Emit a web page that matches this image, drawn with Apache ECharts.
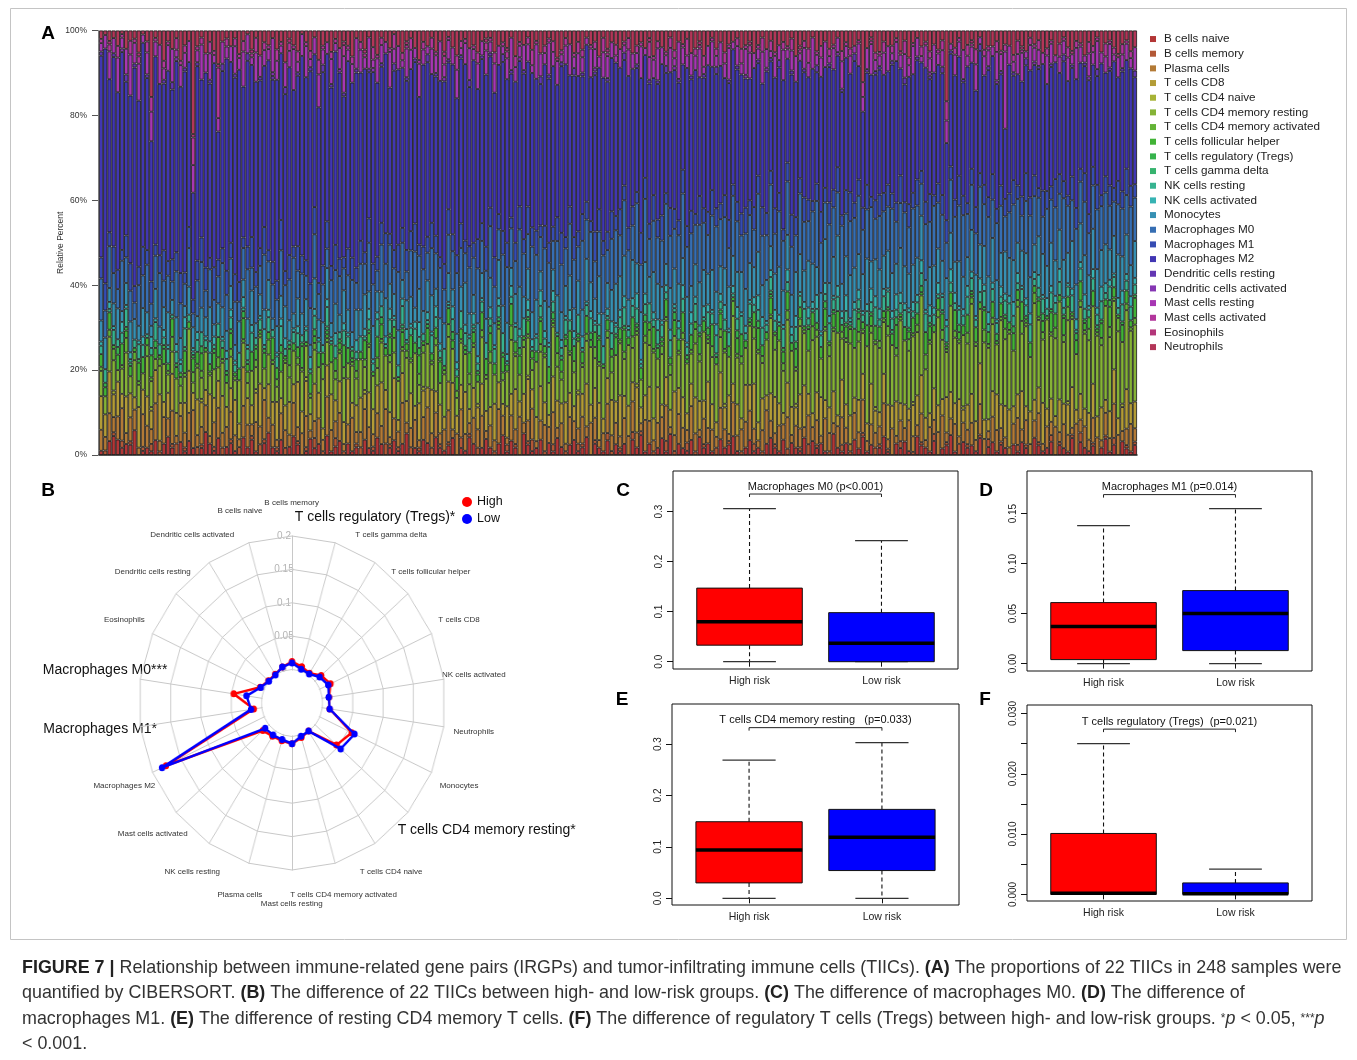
<!DOCTYPE html>
<html><head><meta charset="utf-8">
<script src="https://cdn.jsdelivr.net/npm/echarts@6/dist/echarts.min.js"></script>
<style>html,body{margin:0;padding:0;background:#fff}body{position:relative;width:1357px;height:1060px;overflow:hidden}#c{position:absolute;left:0;top:0;width:1357px;height:1060px}#r{position:absolute;left:91.7px;top:503px;width:400px;height:400px;transform:scaleX(0.918);transform-origin:200px 200px}</style>
</head><body><div id="c"></div><div id="r"></div>
<script>
// ---------------- Panel A data (per-sample CIBERSORT fractions, %, estimated) ----------------
const sampleCount = 248;
const cellTypes = ['B cells naive','B cells memory','Plasma cells','T cells CD8','T cells CD4 naive','T cells CD4 memory resting','T cells CD4 memory activated','T cells follicular helper','T cells regulatory (Tregs)','T cells gamma delta','NK cells resting','NK cells activated','Monocytes','Macrophages M0','Macrophages M1','Macrophages M2','Dendritic cells resting','Dendritic cells activated','Mast cells resting','Mast cells activated','Eosinophils','Neutrophils'];
const percentTicks = ['0%','20%','40%','60%','80%','100%'];

const bNaive = [1,0,4,5,4,2,3,3,6,0,1,2,1,4,0,3,5,2,0,3,1,4,2,0,2,6,3,1,5,0,2,
3,1,0,5,2,4,1,0,3,6,2,1,4,0,2,5,3,0,1,4,2,3,0,5,1,2,4,0,3,1,2,
0,4,2,1,5,3,0,2,4,1,3,6,0,2,1,4,3,0,5,2,1,3,4,0,2,1,5,3,0,2,4,
2,0,3,5,1,4,2,0,6,3,1,2,4,0,3,1,5,2,0,3,4,1,2,5,0,3,2,1,4,0,3,
1,3,0,4,2,5,1,3,0,2,4,1,6,0,3,2,1,4,0,5,2,3,1,0,4,2,3,5,1,0,2,
4,1,2,0,3,5,2,1,4,0,3,2,1,5,0,4,2,3,1,0,6,2,1,3,0,4,2,5,1,3,0,
2,5,1,0,3,2,4,1,0,5,3,2,1,4,0,2,3,6,1,0,4,2,3,1,5,0,2,4,1,3,2,
0,3,1,4,2,0,5,3,1,2,4,0,3,2,1,5,0,4,2,1,3,0,2,5,1,3,0,4,2,1,3];
const bMem = [0,1,0,1,0,2,0,1,0,0,1,0,2,0,1,0,0,1,3,0,1,0,0,2,1,0,0,1,0,2,0,
1,0,2,0,0,1,0,3,1,0,0,1,0,2,0,0,1,0,1,0,3,0,1,0,0,2,0,1,0,0,1,
2,0,0,1,0,0,3,1,0,1,0,0,2,0,1,0,0,2,0,1,0,1,0,0,3,0,1,0,2,0,0,
0,1,0,0,2,0,1,0,0,1,3,0,0,1,0,2,0,0,1,0,0,2,1,0,0,1,0,0,2,1,0,
1,0,0,2,0,1,0,0,1,0,0,3,0,1,0,0,2,0,1,0,1,0,0,2,0,0,1,0,0,1,0,
0,2,0,1,0,0,1,0,0,2,0,0,1,0,3,0,1,0,0,1,0,0,2,0,1,0,0,1,0,0,2,
1,0,1,0,0,2,0,0,1,0,1,0,0,2,0,0,1,0,0,3,0,1,0,0,1,0,2,0,0,1,0,
0,0,2,0,1,0,0,1,0,0,2,0,1,0,0,1,0,3,0,0,1,0,0,1,0,2,0,0,1,0,1];
const plasma = [5,3,8,4,6,9,3,7,5,2,8,6,4,10,3,7,5,9,2,6,4,8,11,3,5,7,2,6,9,4,5,
7,4,2,9,6,3,8,5,10,4,6,2,7,5,3,9,4,6,8,2,5,7,3,10,6,4,8,2,5,9,3,
4,8,6,3,7,5,9,2,6,4,11,3,5,8,2,6,9,4,7,3,5,10,2,6,8,4,3,7,5,9,2,
6,3,9,5,2,7,4,10,3,6,8,2,5,7,4,9,3,6,2,8,5,4,7,3,9,6,2,5,8,4,6,
3,7,5,8,4,2,9,6,3,7,5,10,2,4,8,6,3,9,5,2,7,4,6,3,8,5,2,9,4,6,7,
8,4,2,6,9,5,3,7,4,10,2,6,5,3,8,4,7,2,9,5,3,6,8,4,2,7,5,9,3,6,4,
5,9,3,7,2,6,4,8,5,3,9,2,7,4,6,10,3,5,8,2,6,4,7,3,9,5,2,8,6,4,3,
2,6,8,4,7,3,5,9,2,6,4,8,3,7,5,2,9,4,6,3,8,5,2,7,4,10,6,3,5,8,4];
const cd8 = [8,5,12,6,9,4,10,7,3,11,6,8,5,9,13,4,7,10,6,3,8,12,5,9,7,4,11,6,8,10,5,
6,9,4,11,7,5,8,12,3,9,6,10,4,7,8,5,13,6,9,4,11,7,3,8,10,5,9,6,12,4,7,
9,4,10,6,8,12,5,7,11,3,8,6,9,4,10,7,5,12,6,8,3,9,11,5,7,10,4,8,6,9,5,
5,10,7,3,9,6,11,4,8,12,5,7,9,6,3,10,8,5,11,7,4,9,6,12,5,8,10,4,7,9,6,
11,6,8,5,12,4,7,9,6,10,3,8,5,11,7,9,4,6,10,8,5,12,7,4,9,6,11,5,8,3,10,
7,12,5,9,4,8,10,6,3,11,7,5,9,12,6,4,8,10,5,7,9,3,11,6,8,4,10,7,5,12,6,
4,8,11,6,9,5,7,3,10,8,12,6,4,9,7,5,11,8,6,10,4,7,9,5,12,6,3,8,10,7,9,
10,5,7,12,4,9,6,8,11,5,7,3,10,6,9,12,4,8,5,7,11,6,9,4,8,10,5,7,12,6,8];
const cd4Naive = [0,0,0,1,0,0,0,0,0,0,0,0,1,0,0,0,0,0,0,0,0,0,0,0,1,0,0,0,0,0,0,
0,0,0,0,0,0,1,0,0,0,0,0,0,0,0,0,0,0,1,0,0,0,0,0,0,0,0,0,0,0,0,
0,1,0,0,0,0,0,0,0,0,0,0,0,0,0,1,0,0,0,0,0,0,0,0,0,0,0,0,1,0,0,
0,0,0,0,0,0,0,0,0,1,0,0,0,0,0,0,0,0,0,0,0,1,0,0,0,0,0,0,0,0,0,
0,0,0,0,1,0,0,0,0,0,0,0,0,0,0,0,0,0,0,0,0,0,0,0,0,1,0,0,0,0,0,
0,0,0,0,0,0,0,0,0,0,0,1,0,0,0,0,0,0,0,0,0,0,0,0,0,0,0,0,0,0,1,
0,0,0,0,0,0,0,0,1,0,0,0,0,0,0,0,0,0,0,0,1,0,0,0,0,0,0,0,0,0,0,
0,0,0,0,0,0,0,0,0,0,0,0,0,0,1,0,0,0,0,0,0,0,0,0,0,0,0,1,0,0,0];
const cd4MemRest = [6,4,10,8,3,7,12,5,9,6,4,11,7,3,8,10,5,6,9,4,7,12,3,8,6,10,5,7,4,9,6,
8,5,11,7,4,9,6,13,5,8,10,4,7,12,6,9,5,11,8,4,10,7,13,6,9,5,8,12,4,10,7,
10,6,13,8,5,11,9,14,7,10,6,12,8,15,5,9,11,7,13,6,10,14,8,5,12,9,7,11,6,13,8,
12,8,14,6,10,15,9,7,13,11,5,16,9,12,8,14,10,6,15,11,9,13,7,12,16,8,10,14,11,7,13,
14,10,16,9,13,7,15,11,18,8,12,16,10,14,9,17,12,8,15,11,19,10,13,16,9,14,11,18,12,15,10,
16,12,19,10,15,22,13,17,11,20,14,9,18,15,12,21,16,10,19,14,17,23,12,16,20,13,18,11,22,15,17,
18,14,22,16,12,24,19,15,21,17,25,13,20,16,23,18,14,26,19,15,22,17,28,20,16,24,18,21,14,25,19,
20,16,26,18,23,15,28,21,17,25,19,22,30,18,24,20,16,27,21,19,25,23,17,29,22,20,26,18,24,21,23];
const cd4MemAct = [1,0,2,3,0,1,4,0,2,1,0,3,1,0,2,0,1,4,0,2,1,0,3,1,2,0,1,0,3,1,0,
2,1,0,1,3,0,2,1,0,4,1,2,0,1,3,0,2,1,0,1,2,0,4,1,0,2,1,3,0,1,2,
0,2,1,0,3,1,0,2,4,0,1,2,1,0,3,2,0,1,2,0,1,4,0,2,1,0,3,1,0,2,1,
3,0,1,2,0,4,1,0,2,1,3,0,2,1,0,1,4,2,0,1,3,0,1,2,0,3,1,0,2,4,0,
1,2,0,3,1,0,2,4,1,0,2,1,3,0,1,2,0,1,4,2,0,1,3,0,2,1,0,4,1,2,0,
0,3,1,2,0,1,4,0,2,3,0,1,2,1,0,4,2,0,1,3,1,0,2,1,4,0,3,1,0,2,1,
2,1,3,0,2,1,0,3,1,2,0,4,1,0,2,3,1,0,2,1,0,3,2,1,0,4,1,2,0,1,3,
1,0,2,4,1,0,3,1,2,0,1,3,0,2,4,1,0,2,1,3,0,1,2,0,3,1,4,0,2,1,2];
const tfh = [3,2,5,1,4,6,2,3,1,5,4,2,6,3,1,4,2,5,3,1,6,2,4,3,5,1,2,4,6,3,2,
4,1,3,6,2,5,3,1,4,2,6,3,5,1,4,2,3,6,1,5,2,4,3,1,5,3,2,6,4,1,3,
2,5,3,1,6,4,2,5,3,1,4,2,6,3,5,1,4,2,3,6,1,5,2,4,3,1,6,3,2,5,4,
5,3,1,4,2,6,3,5,1,4,2,3,6,2,4,1,5,3,2,6,4,1,3,5,2,4,6,1,3,2,5,
3,6,2,5,1,3,4,2,6,3,1,5,2,4,3,6,1,4,2,5,3,1,6,2,4,5,3,1,4,6,2,
1,4,6,3,2,5,1,4,3,6,2,5,3,1,6,4,2,3,5,1,4,6,2,3,1,5,4,2,6,3,4,
4,2,5,3,6,1,4,2,5,3,1,6,4,2,3,5,1,4,6,2,3,5,1,4,2,6,3,5,1,4,3,
2,5,3,6,1,4,2,5,3,1,6,4,2,5,3,1,4,6,2,3,5,1,4,2,6,3,1,5,4,2,6];
const tregs = [0,1,0,0,2,0,1,0,0,1,0,0,0,2,0,1,0,0,1,0,0,0,1,0,2,0,0,1,0,0,1,
1,0,0,2,0,0,1,0,1,0,0,0,2,0,1,0,0,1,0,0,2,0,0,1,0,0,1,0,0,2,0,
0,0,1,0,0,2,0,1,0,0,1,0,0,0,2,0,1,0,0,1,0,0,2,0,0,1,0,0,1,0,0,
2,0,0,1,0,0,0,2,0,1,0,0,1,0,0,2,0,0,1,0,0,1,0,0,2,0,1,0,0,0,1,
0,1,0,0,1,0,2,0,0,0,1,0,0,2,0,0,1,0,0,1,0,2,0,0,1,0,0,0,2,0,0,
1,0,2,0,0,1,0,0,1,0,0,2,0,0,1,0,0,0,2,0,1,0,0,1,0,0,2,0,0,1,0,
0,0,1,0,2,0,0,1,0,0,2,0,1,0,0,0,1,0,0,2,0,0,1,0,0,1,0,0,2,0,1,
0,2,0,0,1,0,0,0,2,0,1,0,0,1,0,0,2,0,1,0,0,0,1,0,2,0,0,1,0,0,1];
const tgd = [0,0,0,0,0,0,0,1,0,0,0,0,0,0,0,0,0,0,0,0,1,0,0,0,0,0,0,0,0,0,0,
0,0,0,0,1,0,0,0,0,0,0,0,0,0,0,0,0,0,0,0,0,0,0,1,0,0,0,0,0,0,0,
0,0,0,0,0,0,0,0,0,0,1,0,0,0,0,0,0,0,0,0,0,0,0,0,0,0,0,1,0,0,0,
0,0,1,0,0,0,0,0,0,0,0,0,0,0,0,0,0,1,0,0,0,0,0,0,0,0,0,0,0,0,0,
0,0,0,0,0,0,0,0,0,1,0,0,0,0,0,0,0,0,0,0,0,0,0,1,0,0,0,0,0,0,0,
0,0,0,0,0,1,0,0,0,0,0,0,0,0,0,0,0,0,0,0,0,0,0,0,0,0,1,0,0,0,0,
0,0,0,1,0,0,0,0,0,0,0,0,0,0,0,1,0,0,0,0,0,0,0,0,0,0,0,0,0,0,0,
0,0,0,0,0,0,0,1,0,0,0,0,0,0,0,0,0,0,0,0,0,1,0,0,0,0,0,0,0,0,0];
const nkRest = [2,3,1,4,2,3,5,1,2,4,3,1,2,5,3,2,4,1,3,2,5,2,1,3,4,2,3,1,4,2,3,
3,2,4,1,3,5,2,3,1,4,2,3,5,2,1,3,4,2,3,1,4,3,2,5,1,3,2,4,3,1,2,
4,1,3,2,5,3,1,4,2,3,5,1,2,4,3,2,1,5,3,2,4,1,3,2,5,3,4,1,2,3,4,
2,4,3,5,1,2,4,3,5,2,1,4,3,2,5,3,1,2,4,3,2,5,1,3,4,2,3,5,1,4,2,
3,5,2,3,4,1,3,5,2,4,3,2,5,1,3,4,2,3,5,2,1,4,3,5,2,3,4,1,3,5,2,
4,2,3,5,2,4,3,1,5,3,2,4,3,5,2,1,4,3,2,5,3,4,2,3,1,5,3,2,4,3,5,
2,4,5,3,2,3,5,4,2,3,4,5,2,3,1,4,5,3,2,4,3,5,4,2,3,5,2,4,3,2,4,
5,3,2,4,3,5,2,3,4,2,5,3,4,2,3,5,1,4,3,2,4,3,5,2,4,3,2,5,3,4,3];
const nkAct = [1,0,2,1,0,3,1,2,0,1,2,0,3,1,0,2,1,0,2,1,3,0,1,2,0,1,3,2,0,1,2,
2,1,0,3,1,2,0,1,4,2,0,1,2,3,0,1,2,0,1,3,2,1,0,2,1,3,0,2,1,0,3,
0,2,3,1,2,0,2,3,1,0,2,3,1,2,4,0,2,1,3,2,0,1,3,2,0,2,1,3,2,1,0,
3,1,2,0,2,3,1,2,0,3,2,1,4,2,1,3,0,2,1,3,2,0,3,1,2,1,3,0,2,3,1,
2,3,1,2,4,1,3,0,2,3,1,2,3,1,2,4,1,3,2,0,3,2,1,3,2,4,1,2,3,1,2,
1,2,4,3,1,2,3,2,1,4,2,3,1,2,3,2,4,1,3,2,1,3,2,4,1,2,3,1,2,4,3,
3,2,1,2,4,3,2,1,3,2,4,1,3,2,3,1,2,4,3,1,2,3,2,1,4,2,3,2,1,3,2,
2,4,3,1,2,3,2,4,1,3,2,2,4,3,1,2,3,2,4,1,3,2,4,3,2,1,3,4,2,3,2];
const mono = [5,7,4,6,8,3,6,9,5,4,7,6,3,8,5,6,9,4,7,5,3,8,6,4,7,5,9,3,6,8,5,
6,4,8,5,7,9,4,6,5,8,3,7,6,9,5,4,8,6,7,3,9,5,6,8,4,7,5,9,6,4,8,
7,9,5,8,6,4,10,7,6,9,5,8,7,4,9,6,8,10,5,7,6,9,4,8,7,10,6,5,9,7,6,
8,6,10,7,9,5,8,11,6,9,7,10,5,8,9,6,11,7,8,10,6,9,7,12,8,6,10,9,7,8,11,
9,11,7,10,8,12,9,7,11,10,8,6,12,9,10,8,11,7,9,12,10,8,11,9,7,10,12,8,9,11,10,
10,8,12,9,11,7,10,13,9,11,8,12,10,9,13,11,8,10,12,9,11,14,8,10,12,9,11,10,13,8,10,
11,9,12,10,8,13,11,9,12,10,14,8,11,12,9,10,13,11,9,12,10,8,13,11,10,12,9,14,11,10,12,
10,12,9,11,13,10,8,12,11,9,13,10,12,11,9,14,10,12,11,8,13,11,10,12,9,11,13,10,12,9,11];
const m0 = [10,6,12,8,5,14,7,9,4,11,8,13,6,9,15,7,10,5,12,8,6,11,4,9,13,7,10,6,8,12,9,
7,11,5,9,13,6,10,8,14,5,9,7,12,6,10,15,8,11,6,9,13,7,10,5,12,8,11,6,9,14,7,
12,8,14,10,6,13,9,11,7,15,10,8,12,16,9,11,7,13,10,14,8,12,9,17,11,7,13,10,15,9,12,
14,10,8,13,16,11,9,15,12,10,17,13,9,14,11,8,16,12,10,15,13,9,18,11,14,10,12,16,9,13,15,
11,15,13,9,16,12,18,10,14,13,11,17,15,10,13,19,12,14,11,16,13,10,15,18,12,14,11,16,13,10,15,
13,10,16,14,12,18,11,15,13,17,12,10,16,14,11,15,19,13,10,16,14,12,17,11,15,13,18,12,14,16,11,
15,12,14,17,11,13,16,12,18,14,10,15,13,17,12,14,11,16,13,15,19,12,14,11,17,13,15,12,16,14,10,
12,16,13,11,15,17,14,12,10,16,13,15,11,18,14,12,16,13,15,11,14,17,12,16,13,10,15,14,12,17,13];
const m1 = [5,6,4,7,5,3,6,8,4,5,7,4,6,3,5,8,4,6,5,7,3,6,4,5,7,6,3,8,5,4,6,
4,7,5,3,6,8,4,5,7,3,6,5,8,4,6,3,7,5,4,6,8,3,5,7,4,6,5,3,7,6,4,
6,3,7,5,4,6,8,3,5,7,4,6,5,8,3,6,4,7,5,3,6,8,4,5,7,3,6,4,8,5,6,
5,8,4,6,7,3,5,6,4,8,5,7,3,6,5,4,7,8,3,5,6,4,7,5,3,8,6,4,5,7,4,
7,4,6,5,3,8,6,4,7,5,6,3,8,5,4,7,5,6,3,8,4,6,7,5,4,6,8,3,5,6,7,
4,6,5,8,6,4,7,5,3,6,8,5,4,7,6,3,5,8,4,6,5,7,3,6,8,4,5,6,7,3,5,
6,5,7,4,5,8,3,6,5,7,4,6,8,3,5,6,7,4,5,8,6,3,5,7,4,6,5,8,4,6,5,
5,7,4,6,8,5,6,3,7,5,4,8,6,5,3,7,6,4,8,5,6,7,3,5,6,4,7,5,8,6,4];
const m2 = [48,52,44,50,46,55,42,49,53,45,50,47,38,51,48,44,52,46,50,43,54,47,31,49,45,51,46,50,38,48,53,
46,50,54,43,49,45,52,47,41,51,48,53,44,50,46,42,49,55,47,52,45,48,51,43,50,46,53,44,49,47,51,
44,48,42,46,50,43,47,41,49,45,43,47,42,46,40,48,44,41,45,49,43,46,40,44,47,42,45,49,41,46,43,
41,45,39,43,47,40,44,38,46,42,40,44,37,43,41,45,39,42,46,38,43,41,36,44,40,42,38,45,41,39,43,
38,34,40,36,33,39,35,37,32,38,36,34,39,35,37,31,38,35,40,33,36,38,34,37,35,32,39,36,34,38,35,
33,37,31,35,38,32,36,34,39,33,35,37,31,36,34,38,32,35,33,37,34,31,36,34,33,37,35,26,32,36,34,
35,32,36,34,37,31,35,33,38,32,34,36,33,35,31,37,24,34,36,32,35,38,33,31,36,34,32,37,35,33,20,
34,30,33,36,31,35,32,37,34,30,36,33,31,35,34,32,37,33,30,35,33,31,36,32,34,37,31,35,33,34,32];
const dcRest = [1,0,0,1,0,0,2,0,1,0,0,1,0,0,0,1,0,2,0,0,1,0,0,1,0,0,1,0,0,2,0,
0,1,0,0,2,0,0,1,0,0,1,0,0,2,0,0,1,0,0,1,0,0,2,0,1,0,0,1,0,0,1,
0,0,1,0,0,1,0,0,2,0,0,1,0,1,0,0,2,0,1,0,0,1,0,0,1,0,2,0,0,1,0,
1,0,0,2,0,1,0,0,1,0,0,0,2,0,1,0,0,1,0,0,2,0,1,0,0,1,0,0,1,0,0,
0,2,0,0,1,0,0,1,0,1,0,2,0,0,1,0,0,1,0,0,1,0,0,2,0,0,1,0,1,0,0,
0,0,1,0,0,1,0,2,0,0,1,0,0,1,0,0,2,0,0,1,0,0,1,0,0,2,0,0,1,0,1,
1,0,0,1,0,0,2,0,0,1,0,0,1,0,0,2,0,1,0,0,1,0,0,0,2,0,1,0,0,1,0,
0,1,0,0,2,0,0,1,0,0,1,0,0,2,0,1,0,0,1,0,0,2,0,0,1,0,0,1,0,0,2];
const dcAct = [0,0,0,0,0,1,0,0,0,0,0,0,0,0,0,0,0,0,1,0,0,0,0,0,0,0,0,0,0,0,0,
0,0,0,0,0,0,0,0,0,0,1,0,0,0,0,0,0,0,0,0,0,0,0,0,0,0,1,0,0,0,0,
0,0,0,1,0,0,0,0,0,0,0,0,0,0,0,0,0,0,0,0,1,0,0,0,0,0,0,0,0,0,0,
0,0,0,0,0,0,0,1,0,0,0,0,0,0,0,0,0,0,0,0,0,0,0,0,0,1,0,0,0,0,0,
0,0,0,0,0,0,0,0,0,0,0,0,0,1,0,0,0,0,0,0,0,0,0,0,0,0,0,0,0,0,1,
0,0,0,0,1,0,0,0,0,0,0,0,0,0,0,0,0,0,0,0,0,1,0,0,0,0,0,0,0,0,0,
0,0,0,0,0,0,0,0,0,0,0,0,1,0,0,0,0,0,0,0,0,0,0,0,0,0,0,0,1,0,0,
0,0,0,0,0,0,1,0,0,0,0,0,0,0,0,0,0,0,0,1,0,0,0,0,0,0,0,0,0,0,0];
const mastRest = [2,3,8,4,9,3,7,12,5,10,2,6,8,4,11,3,7,9,2,5,4,6,8,3,10,5,7,2,4,6,3,
4,7,3,10,5,2,8,6,4,3,9,5,2,7,4,11,3,6,8,2,5,9,4,3,7,2,6,10,3,5,8,
6,3,9,2,7,5,3,10,4,6,2,8,5,3,9,4,2,7,5,11,3,6,4,8,2,5,9,3,7,4,6,
3,8,5,2,6,9,4,3,7,5,2,10,6,3,8,4,7,2,5,9,3,6,4,2,8,5,3,7,6,4,2,
5,2,7,4,3,8,2,6,5,9,4,3,7,2,10,5,3,6,4,8,2,5,7,3,6,4,9,2,5,3,7,
7,4,3,9,5,2,6,4,8,3,5,7,2,6,4,9,3,5,7,2,6,4,8,3,5,2,7,4,6,9,3,
3,6,8,2,5,4,7,3,9,5,2,6,4,8,3,5,7,2,6,4,9,3,5,7,2,6,4,3,8,5,22,
5,3,6,9,2,7,4,5,3,8,6,2,5,4,7,3,9,5,2,6,4,8,3,5,7,2,6,4,5,3,7];
const mastAct = [1,0,2,0,3,1,0,4,1,2,0,3,4,1,0,2,1,0,3,1,2,0,8,1,2,0,3,1,15,0,2,
0,2,1,3,0,1,4,0,2,1,0,3,1,0,2,1,3,0,1,2,0,4,1,0,2,1,0,3,1,2,0,
2,1,0,3,1,2,0,1,4,0,2,1,3,0,1,2,0,3,1,0,2,1,0,4,2,1,0,1,3,0,2,
1,3,0,1,2,0,3,1,0,2,4,1,0,2,1,3,0,1,2,0,1,3,2,0,1,2,0,4,1,0,3,
0,1,3,0,2,1,0,4,1,2,0,1,3,2,0,1,4,0,2,1,3,0,1,2,0,3,1,0,2,4,1,
2,0,1,4,0,3,1,0,2,1,3,0,1,2,4,0,1,3,0,2,1,0,3,1,2,0,1,4,0,1,2,
1,3,0,2,1,0,4,2,1,0,3,1,2,0,1,3,6,0,2,1,0,3,1,4,0,2,1,0,3,1,2,
0,2,4,1,0,2,1,3,0,2,1,0,4,1,3,0,2,1,0,3,2,1,0,4,1,2,0,3,1,2,0];
const eos = [0,0,1,0,0,0,0,0,0,1,0,0,0,0,0,0,0,0,0,0,0,0,1,0,0,0,0,0,1,0,0,
0,0,0,0,0,1,0,0,0,0,0,0,0,0,1,0,0,0,0,0,0,0,0,0,0,0,0,1,0,0,0,
0,1,0,0,0,0,0,0,0,0,0,1,0,0,0,0,0,0,0,0,1,0,0,0,0,0,0,0,0,0,1,
0,0,0,0,1,0,0,0,0,0,0,0,0,0,0,0,1,0,0,0,0,0,0,0,0,0,0,0,1,0,0,
0,0,0,0,0,0,0,1,0,0,0,0,0,0,0,0,0,0,0,1,0,0,0,0,0,0,0,0,0,0,0,
1,0,0,0,0,0,0,0,0,0,0,0,1,0,0,0,0,0,0,0,0,0,0,0,0,0,0,0,0,1,0,
0,0,0,0,0,1,0,0,0,0,0,0,0,0,0,0,0,0,0,0,0,0,1,0,0,0,0,0,0,0,0,
0,0,0,1,0,0,0,0,0,0,0,0,0,0,0,1,0,0,0,0,0,0,0,0,0,0,1,0,0,0,0];
const neut = [2,1,3,2,4,1,5,3,2,6,1,3,18,2,4,8,3,5,2,7,4,3,30,4,2,6,3,5,10,3,2,
4,2,6,3,1,5,2,7,3,4,2,5,3,9,2,4,6,1,3,5,2,8,4,3,6,2,5,3,4,7,2,
3,5,2,4,7,2,3,5,1,4,6,3,2,5,8,3,4,2,6,3,5,2,4,7,3,2,5,4,6,3,2,
2,6,4,3,5,2,7,3,4,2,5,3,6,4,2,3,8,5,2,4,6,3,5,2,4,3,7,2,5,3,4,
5,3,2,6,4,3,5,2,7,3,4,6,2,5,3,4,2,6,5,3,7,4,2,5,3,6,4,3,2,5,4,
3,6,4,2,5,3,6,4,3,5,2,7,4,3,5,2,6,4,3,5,4,2,6,3,5,4,3,14,5,2,6,
6,3,5,4,2,6,3,7,4,2,5,3,6,4,5,3,22,4,5,2,6,4,3,5,2,6,4,5,3,6,4,
4,7,3,5,6,2,4,3,6,5,3,7,4,2,5,6,3,4,7,3,5,2,6,4,3,5,7,4,3,6,5];

// ---------------- Panel B data (radar, mean fraction) ----------------
const radarIndicators = ['B cells memory','B cells naive','Dendritic cells activated','Dendritic cells resting','Eosinophils','Macrophages M0***','Macrophages M1*','Macrophages M2','Mast cells activated','NK cells resting','Plasma cells','Mast cells resting','T cells CD4 memory activated','T cells CD4 naive','T cells CD4 memory resting*','Monocytes','Neutrophils','NK cells activated','T cells CD8','T cells follicular helper','T cells gamma delta','T cells regulatory (Tregs)*'];
const radarHigh = [0.012,0.006,0.001,0.001,0.007,0.046,0.013,0.176,0.013,0.009,0.009,0.011,0.004,0.000,0.046,0.057,0.012,0.011,0.019,0.013,0.003,0.0066];
const radarLow  = [0.010,0.006,0.000,0.000,0.006,0.025,0.0175,0.183,0.008,0.007,0.007,0.011,0.002,0.000,0.055,0.062,0.012,0.0105,0.015,0.0096,0.0017,0.0027];
const radarTickLabels = ['0','0.05','0.1','0.15','0.2'];
const radarGroups = ['High','Low'];

// ---------------- Panels C-F data (boxplots: min, Q1, median, Q3, max) ----------------
const boxGroups = ['High risk','Low risk'];
const boxCHigh = [0, 0.033, 0.080, 0.147, 0.306];
const boxCLow  = [0, 0, 0.037, 0.098, 0.242];
const boxDHigh = [0, 0.004, 0.037, 0.061, 0.138];
const boxDLow  = [0, 0.013, 0.050, 0.073, 0.155];
const boxEHigh = [0, 0.030, 0.094, 0.149, 0.269];
const boxELow  = [0, 0.054, 0.119, 0.173, 0.303];
const boxFHigh = [0, 0, 0.0002, 0.0101, 0.0250];
const boxFLow  = [0, 0, 0.0001, 0.0019, 0.0042];
const bracketLevels = [0.335, 0.169, 0.332, 0.0274];
const boxTitles = ['Macrophages M0 (p<0.001)','Macrophages M1 (p=0.014)','T cells CD4 memory resting   (p=0.033)','T cells regulatory (Tregs)  (p=0.021)'];
const ticksC = [0, 0.1, 0.2, 0.3];
const ticksD = [0, 0.05, 0.10, 0.15];
const ticksE = [0, 0.1, 0.2, 0.3];
const ticksF = [0, 0.005, 0.010, 0.015, 0.020, 0.025, 0.030];
const labelsF = [0, 0.010, 0.020, 0.030];

// ---------------- build ----------------
const FONT = 'Liberation Sans, Arial, Helvetica, sans-serif';
function hsv2hex(h, s, v) {
  const i = Math.floor(h * 6), f = h * 6 - i, p = v * (1 - s), q = v * (1 - f * s), t = v * (1 - (1 - f) * s);
  let r, g, b;
  switch (i % 6) { case 0: r=v;g=t;b=p;break; case 1: r=q;g=v;b=p;break; case 2: r=p;g=v;b=t;break; case 3: r=p;g=q;b=v;break; case 4: r=t;g=p;b=v;break; default: r=v;g=p;b=q; }
  return '#' + [r, g, b].map(x => Math.round(x * 255).toString(16).padStart(2, '0')).join('');
}
const fractions = [bNaive,bMem,plasma,cd8,cd4Naive,cd4MemRest,cd4MemAct,tfh,tregs,tgd,nkRest,nkAct,mono,m0,m1,m2,dcRest,dcAct,mastRest,mastAct,eos,neut];
const colors = cellTypes.map((_, i) => hsv2hex(i / cellTypes.length, 0.7, 0.7));
const totals = [];
for (let i = 0; i < sampleCount; i++) { let s = 0; fractions.forEach(a => s += (a[i] || 0)); totals.push(s || 1); }
const sampleIds = totals.map((_, i) => 'S' + (i + 1));

const series = [];
fractions.forEach((arr, k) => {
  series.push({
    name: cellTypes[k], type: 'bar', stack: 'pct', xAxisIndex: 0, yAxisIndex: 0,
    barCategoryGap: '0%', silent: true,
    data: totals.map((t, i) => (arr[i] ? 100 * arr[i] / t : null)),
    itemStyle: { color: colors[k], borderColor: '#151515', borderWidth: 0.8 }
  });
});
// legend proxies for radar groups (the radar itself is drawn in its own instance below)
series.push({ name: 'High', type: 'scatter', xAxisIndex: 1, yAxisIndex: 1, data: [], itemStyle: { color: '#ff0000', opacity: 1 } });
series.push({ name: 'Low', type: 'scatter', xAxisIndex: 1, yAxisIndex: 1, data: [], itemStyle: { color: '#0000ff', opacity: 1 } });

// boxplots
function renderBox(params, api) {
  const x = api.value(0);
  const vmin = api.value(1), q1 = api.value(2), med = api.value(3), q3 = api.value(4), vmax = api.value(5);
  const fill = api.value(6) === 0 ? '#ff0000' : '#0000ff';
  const cx = api.coord([x, med])[0];
  const bl = api.coord([x - 0.4, med])[0], br = api.coord([x + 0.4, med])[0];
  const cl = api.coord([x - 0.2, med])[0], cr = api.coord([x + 0.2, med])[0];
  const y = v => api.coord([x, v])[1];
  const yMin = y(vmin), yQ1 = y(q1), yMed = y(med), yQ3 = y(q3), yMax = y(vmax);
  return { type: 'group', children: [
    { type: 'line', shape: { x1: cx, y1: yQ3, x2: cx, y2: yMax }, style: { stroke: '#111', lineWidth: 1.1, lineDash: [4, 3] } },
    { type: 'line', shape: { x1: cx, y1: yQ1, x2: cx, y2: yMin }, style: { stroke: '#111', lineWidth: 1.1, lineDash: [4, 3] } },
    { type: 'line', shape: { x1: cl, y1: yMax, x2: cr, y2: yMax }, style: { stroke: '#333', lineWidth: 1.2 } },
    { type: 'line', shape: { x1: cl, y1: yMin, x2: cr, y2: yMin }, style: { stroke: '#333', lineWidth: 1.2 } },
    { type: 'rect', shape: { x: bl, y: yQ3, width: br - bl, height: Math.max(yQ1 - yQ3, 0.5) }, style: { fill: fill, stroke: '#111', lineWidth: 1 } },
    { type: 'line', shape: { x1: bl, y1: yMed, x2: br, y2: yMed }, style: { stroke: '#000', lineWidth: 3.5 } }
  ]};
}
function makeBracket(title) {
  return function (params, api) {
    const v = api.value(0);
    const p1 = api.coord([1, v]), p2 = api.coord([2, v]);
    return { type: 'group', children: [
      { type: 'polyline', shape: { points: [[p1[0], p1[1] + 3], [p1[0], p1[1]], [p2[0], p2[1]], [p2[0], p2[1] + 3]] }, style: { stroke: '#222', lineWidth: 1, fill: null } },
      { type: 'text', style: { text: title, x: (p1[0] + p2[0]) / 2, y: p1[1] - 2, align: 'center', verticalAlign: 'bottom', fontSize: 11, fill: '#111', fontFamily: FONT } }
    ]};
  };
}
const boxSets = [[boxCHigh, boxCLow], [boxDHigh, boxDLow], [boxEHigh, boxELow], [boxFHigh, boxFLow]];
boxSets.forEach((pair, k) => {
  series.push({ type: 'custom', xAxisIndex: 2 + k, yAxisIndex: 2 + k, silent: true, renderItem: renderBox,
    data: pair.map((b, j) => [j + 1].concat(b).concat([j])) });
  series.push({ type: 'custom', xAxisIndex: 2 + k, yAxisIndex: 2 + k, silent: true, renderItem: makeBracket(boxTitles[k]),
    data: [[bracketLevels[k]]] });
});

const RCX = 291.7, RCY = 703, RR = 167, RRX = 153.3;   // fmsb radar is drawn slightly elliptical
const grids = [
  { left: 99, top: 30.5, width: 1038, height: 424.5 },
  { left: 284, top: RCY - RR, width: 1, height: RR },
  { left: 673, top: 471, width: 285, height: 198, show: true, borderColor: '#111', borderWidth: 1, backgroundColor: 'transparent' },
  { left: 1027, top: 471, width: 285, height: 200, show: true, borderColor: '#111', borderWidth: 1, backgroundColor: 'transparent' },
  { left: 672, top: 704, width: 287, height: 201, show: true, borderColor: '#111', borderWidth: 1, backgroundColor: 'transparent' },
  { left: 1027, top: 705, width: 285, height: 196, show: true, borderColor: '#111', borderWidth: 1, backgroundColor: 'transparent' }
];
const boxRanges = [[-0.0146, 0.381], [-0.0074, 0.1926], [-0.013, 0.378], [-0.0011, 0.0314]];
const boxTicks = [ticksC, ticksD, ticksE, ticksF];
const boxLabels = [ticksC, ticksD, ticksE, labelsF];
const boxDigits = [1, 2, 1, 3];

const xAxes = [
  { gridIndex: 0, type: 'category', data: sampleIds, axisLabel: { show: false }, axisTick: { show: false },
    axisLine: { show: true, lineStyle: { color: '#222', width: 1.5 } }, offset: 4 },
  { gridIndex: 1, type: 'value', show: false }
];
const yAxes = [
  { gridIndex: 0, type: 'value', min: 0, max: 100, interval: 20, offset: 1,
    axisLabel: { formatter: v => percentTicks[Math.round(v / 20)], fontSize: 8.5, color: '#333', margin: 11, fontFamily: FONT },
    axisTick: { show: true, length: 6, lineStyle: { color: '#555' } },
    axisLine: { show: true, lineStyle: { color: '#888', width: 1 } }, splitLine: { show: false },
    name: 'Relative Percent', nameLocation: 'middle', nameGap: 33, nameMoveOverlap: false,
    nameTextStyle: { fontSize: 8.5, color: '#333', fontFamily: FONT } },
  { gridIndex: 1, type: 'value', min: -0.05, max: 0.2, interval: 0.05,
    axisLine: { show: false }, axisTick: { show: false }, splitLine: { show: false },
    axisLabel: { align: 'center', margin: 0, fontSize: 10, color: '#b4b4b4', fontFamily: FONT,
      formatter: v => { const k = Math.round((v + 0.05) / 0.05) - 1; return k >= 0 ? radarTickLabels[k] : ''; } } }
];
for (let k = 0; k < 4; k++) {
  xAxes.push({ gridIndex: 2 + k, type: 'value', min: 0.42, max: 2.58, splitLine: { show: false },
    axisLine: { show: false },
    axisTick: { show: true, customValues: [1, 2], length: 5, lineStyle: { color: '#111' } },
    axisLabel: { customValues: [1, 2], formatter: v => boxGroups[Math.round(v) - 1], fontSize: 10.5, color: '#222', margin: 7, fontFamily: FONT } });
  yAxes.push({ gridIndex: 2 + k, type: 'value', min: boxRanges[k][0], max: boxRanges[k][1], splitLine: { show: false },
    axisLine: { show: false },
    axisTick: { show: true, customValues: boxTicks[k], length: 6, lineStyle: { color: '#111' } },
    axisLabel: { customValues: boxLabels[k], formatter: v => v.toFixed(boxDigits[k]), rotate: 90, fontSize: 10, color: '#222', margin: 9, fontFamily: FONT } });
}

// graphics: panel letters, radar labels, caption, frame
const graphics = [];
graphics.push({ type: 'rect', z: 0, silent: true, shape: { x: 10.5, y: 8.5, width: 1336, height: 931 }, style: { fill: 'none', stroke: '#c4c4c4', lineWidth: 1 } });
[['A', 48, 34], ['B', 48, 491], ['C', 623, 491], ['D', 986, 491], ['E', 622, 700], ['F', 985, 700]].forEach(p => {
  graphics.push({ type: 'text', x: p[1], y: p[2], silent: true,
    style: { text: p[0], fontSize: 19, fontWeight: 'bold', fill: '#000', fontFamily: FONT, align: 'center', verticalAlign: 'middle', textAlign: 'center', textVerticalAlign: 'middle' } });
});
const LABX = 1.2 * RRX, LABY = 1.2 * RR;
const emphOffsets = { 5: [-4.5, -4.5], 6: [-9.5, -2.5], 14: [56, -4], 21: [31.5, 6] };
radarIndicators.forEach((name, i) => {
  const a = (90 + i * 360 / radarIndicators.length) * Math.PI / 180;
  const off = emphOffsets[i] || [0, 0];
  const big = !!emphOffsets[i];
  graphics.push({ type: 'text', silent: true, x: RCX + LABX * Math.cos(a) + off[0], y: RCY - LABY * Math.sin(a) + off[1],
    style: { text: name, fontSize: big ? 14 : 8, fill: big ? '#111' : '#333', fontFamily: FONT,
      align: 'center', verticalAlign: 'middle', textAlign: 'center', textVerticalAlign: 'middle' } });
});
const captionLines = [
  '{b|FIGURE 7 |} Relationship between immune-related gene pairs (IRGPs) and tumor-infiltrating immune cells (TIICs). {b|(A)} The proportions of 22 TIICs in 248 samples were',
  'quantified by CIBERSORT. {b|(B)} The difference of 22 TIICs between high- and low-risk groups. {b|(C)} The difference of macrophages M0. {b|(D)} The difference of',
  'macrophages M1. {b|(E)} The difference of resting CD4 memory T cells. {b|(F)} The difference of regulatory T cells (Tregs) between high- and low-risk groups. {s|*}{i|p} < 0.05, {s|***}{i|p}',
  '< 0.001.'
];
const CAP = 17.9;
captionLines.forEach((t, i) => {
  graphics.push({ type: 'text', silent: true, x: 22, y: 968 + i * 25.3,
    style: { text: t, fontSize: CAP, fill: '#333', fontFamily: FONT, align: 'left', verticalAlign: 'middle', textAlign: 'left', textVerticalAlign: 'middle',
      rich: { b: { fontWeight: 'bold', fontSize: CAP, fill: '#222', fontFamily: FONT }, i: { fontStyle: 'italic', fontSize: CAP, fill: '#333', fontFamily: FONT }, s: { fontSize: 12, fill: '#333', fontFamily: FONT } } } });
});

const chart = echarts.init(document.getElementById('c'), null, { renderer: 'canvas' });
chart.setOption({
  animation: false,
  backgroundColor: '#fff',
  textStyle: { fontFamily: FONT },
  grid: grids,
  xAxis: xAxes,
  yAxis: yAxes,
  legend: [
    { data: cellTypes, orient: 'vertical', left: 1150, top: 31.7, padding: 0, itemGap: 0, itemWidth: 6, itemHeight: 6, icon: 'rect',
      itemStyle: { borderWidth: 0 }, selectedMode: false, textStyle: { fontSize: 11.7, color: '#222', lineHeight: 14.67, fontFamily: FONT, padding: [0, 0, 0, 3] } },
    { data: radarGroups, orient: 'vertical', left: 462, top: 493.5, padding: 0, itemGap: 0, itemWidth: 10, itemHeight: 10, icon: 'circle',
      itemStyle: { opacity: 1 }, selectedMode: false, textStyle: { fontSize: 12.5, color: '#111', lineHeight: 17, fontFamily: FONT } }
  ],
  graphic: { elements: graphics },
  series: series
});

// ---- Panel B radar (own instance, horizontally compressed like the original fmsb plot) ----
const radarChart = echarts.init(document.getElementById('r'), null, { renderer: 'canvas' });
radarChart.setOption({
  animation: false,
  radar: {
    center: [200, 200], radius: RR, startAngle: 90, splitNumber: 5, shape: 'polygon', z: 0,
    indicator: radarIndicators.map(n => ({ name: n, min: -0.05, max: 0.2 })),
    axisName: { show: false },
    splitLine: { lineStyle: { color: '#c8c8c8', width: 1 } },
    splitArea: { show: false },
    axisLine: { lineStyle: { color: '#c8c8c8', width: 1 } },
    axisTick: { show: false }, axisLabel: { show: false }
  },
  graphic: { elements: [{ type: 'circle', z: 1, silent: true, shape: { cx: 200, cy: 200, r: 32.4 }, style: { fill: '#fff', stroke: null } }] },
  series: [
    { name: radarGroups[0], type: 'radar', z: 3, symbol: 'circle', symbolSize: 7,
      data: [{ name: radarGroups[0], value: radarHigh }], lineStyle: { color: '#ff0000', width: 2.5 }, itemStyle: { color: '#ff0000' } },
    { name: radarGroups[1], type: 'radar', z: 4, symbol: 'circle', symbolSize: 7,
      data: [{ name: radarGroups[1], value: radarLow }], lineStyle: { color: '#0000ff', width: 2.5 }, itemStyle: { color: '#0000ff' } }
  ]
});
</script>
</body></html>
